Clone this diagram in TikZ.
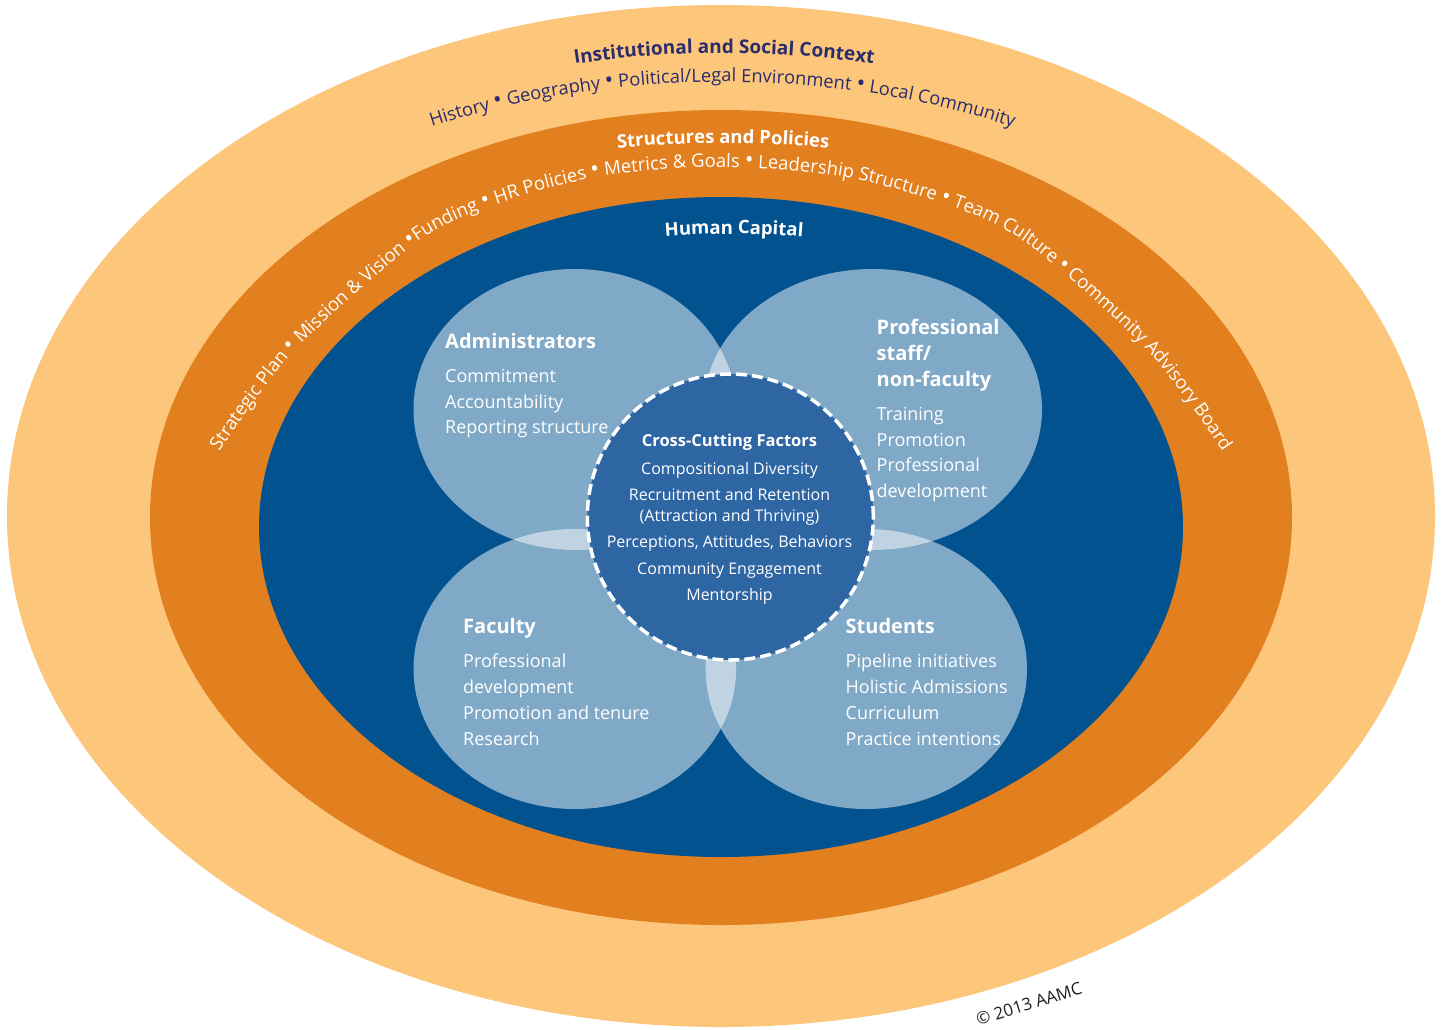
\documentclass[tikz,border=0pt]{standalone}
\usepackage{fontspec}
\setmainfont{Open Sans}
\usetikzlibrary{decorations.text,shapes.geometric}
\definecolor{lightorange}{HTML}{FCC67B}
\definecolor{midorange}{HTML}{E27F1F}
\definecolor{deepblue}{HTML}{02528F}
\definecolor{coreblue}{HTML}{2E65A3}
\definecolor{navytext}{HTML}{2A2C6C}
\definecolor{copytext}{HTML}{231F20}
\newcommand\arcbulsize{\fontsize{23}{26}\selectfont}
\newcommand\arcnormsize{\fontsize{18.3}{22}\selectfont}
\newcommand\arcbigsize{\fontsize{18.5}{22}\selectfont}
\begin{document}
\begin{tikzpicture}[x=1pt,y=1pt,
  ringshape/.style={ellipse, inner sep=0pt, outer sep=0pt, draw=none},
  groupshape/.style={ellipse, inner sep=0pt, outer sep=0pt, draw=none, fill=white, fill opacity=0.5},
  headtext/.style={text=white, font=\fontsize{20}{24}\selectfont\bfseries, anchor=base west, inner sep=0pt},
  bodytext/.style={text=white, font=\fontsize{18}{22}\selectfont, anchor=base west, inner sep=0pt},
  coretext/.style={text=white, font=\fontsize{16}{20}\selectfont, anchor=base, inner sep=0pt},
  corehead/.style={text=white, font=\fontsize{16.5}{20}\selectfont\bfseries, anchor=base, inner sep=0pt},
]
\useasboundingbox (0,0) rectangle (1442,-1029);
\fill[white] (0,0) rectangle (1442,-1029);

% rings
\node[ringshape, fill=lightorange, minimum width=1428pt, minimum height=1022pt] (outer) at (721,-516) {};
\node[ringshape, fill=midorange, minimum width=1142pt, minimum height=815pt] (middle) at (721,-517.5) {};
\node[ringshape, fill=deepblue, minimum width=924pt, minimum height=660pt] (inner) at (721,-527) {};

% four groups
\node[groupshape, minimum width=322.6pt, minimum height=281pt] (admin) at (574.8,-409.5) {};
\node[groupshape, minimum width=338.6pt, minimum height=281pt] (prof) at (872.7,-409.5) {};
\node[groupshape, minimum width=322.6pt, minimum height=280pt] (fac) at (574.8,-669) {};
\node[groupshape, minimum width=321.4pt, minimum height=280pt] (stud) at (866.3,-669) {};

% core circle
\node[circle, minimum size=286pt, inner sep=0pt, fill=coreblue, draw=white, line width=3.5pt, dash pattern=on 11pt off 5pt] (core) at (730.3,-517) {};

% curved texts: outer ring
\path[decorate, decoration={text along path, text align=center, text color=navytext,
  text={|\fontsize{19}{22}\selectfont\bfseries|Institutional and Social Context}}]
  ([shift={(724,-516)}]125:690 and 463) arc[start angle=125, end angle=55, x radius=690, y radius=463];
\path[decorate, decoration={text along path, text align=center, text color=navytext,
  text={|\arcnormsize|History |\arcbulsize|•|\arcnormsize| Geography |\arcbulsize|•|\arcnormsize| Political/Legal Environment |\arcbulsize|•|\arcnormsize| Local Community}}]
  ([shift={(722,-516)}]150:655 and 434) arc[start angle=150, end angle=30, x radius=655, y radius=434];

% curved texts: middle ring
\path[decorate, decoration={text along path, text align=center, text color=white,
  text={|\fontsize{18.5}{22}\selectfont\bfseries|Structures and Policies}}]
  ([shift={(723,-516)}]120:644 and 373) arc[start angle=120, end angle=60, x radius=644, y radius=373];
\path[decorate, decoration={text along path, text align=center, text color=white,
  text={|\arcbigsize|Strategic Plan |\arcbulsize|•|\arcbigsize| Mission {\&} Vision |\arcbulsize|•|\arcbigsize|Funding |\arcbulsize|•|\arcbigsize| HR Policies |\arcbulsize|•|\arcbigsize| Metrics {\&} Goals |\arcbulsize|•|\arcbigsize| Leadership Structure |\arcbulsize|•|\arcbigsize| Team Culture |\arcbulsize|•|\arcbigsize| Community Advisory Board}}]
  plot[smooth] coordinates {(184,-530) (198,-487) (216.7,-455) (293,-352.5) (414.5,-244) (491,-206) (599.6,-176.5) (721,-167) (842.4,-176.5) (951,-206) (1027.5,-244) (1149,-352.5) (1225.3,-455) (1244,-487) (1258,-530)};

% inner ring title
\path[decorate, decoration={text along path, text align=center, text color=white,
  text={|\fontsize{18.5}{22}\selectfont\bfseries|Human Capital}}]
  ([shift={(734,-516)}]110:500 and 282) arc[start angle=110, end angle=70, x radius=500, y radius=282];

% Administrators
\node[headtext] (admhead) at (445,-348) {Administrators};
\node[bodytext] (adm1) at (445,-382.5) {Commitment};
\node[bodytext] (adm2) at (445,-408) {Accountability};
\node[bodytext] (adm3) at (445,-433.5) {Reporting structure};

% Professional staff
\node[headtext] (profhead1) at (876.5,-334) {Professional};
\node[headtext] (profhead2) at (876.5,-360) {staff/};
\node[headtext] (profhead3) at (876.5,-386) {non-faculty};
\node[bodytext] (prof1) at (876.5,-420.5) {Training};
\node[bodytext] (prof2) at (876.5,-446) {Promotion};
\node[bodytext] (prof3) at (876.5,-471.5) {Professional};
\node[bodytext] (prof4) at (876.5,-497) {development};

% Faculty
\node[headtext] (fachead) at (463,-633) {Faculty};
\node[bodytext] (fac1) at (463,-667.5) {Professional};
\node[bodytext] (fac2) at (463,-693.5) {development};
\node[bodytext] (fac3) at (463,-719.5) {Promotion and tenure};
\node[bodytext] (fac4) at (463,-745.5) {Research};

% Students
\node[headtext] (studhead) at (845.5,-633) {Students};
\node[bodytext] (stud1) at (845.5,-667.5) {Pipeline initiatives};
\node[bodytext] (stud2) at (845.5,-693.5) {Holistic Admissions};
\node[bodytext] (stud3) at (845.5,-719.5) {Curriculum};
\node[bodytext] (stud4) at (845.5,-745.5) {Practice intentions};

% core texts
\node[corehead] (corehead) at (729.5,-446.7) {Cross-Cutting Factors};
\node[coretext] (core1) at (729.5,-474) {Compositional Diversity};
\node[coretext] (core2) at (729.5,-500.7) {Recruitment and Retention};
\node[coretext] (core3) at (729.5,-521) {(Attraction and Thriving)};
\node[coretext] (core4) at (729.5,-547.7) {Perceptions, Attitudes, Behaviors};
\node[coretext] (core5) at (729.5,-574.3) {Community Engagement};
\node[coretext] (core6) at (729.5,-600.7) {Mentorship};

% copyright
\node[rotate=17, text=copytext, font=\fontsize{17}{20}\selectfont, inner sep=0pt] (copy) at (1029,-1004) {© 2013 AAMC};
\end{tikzpicture}
\end{document}
